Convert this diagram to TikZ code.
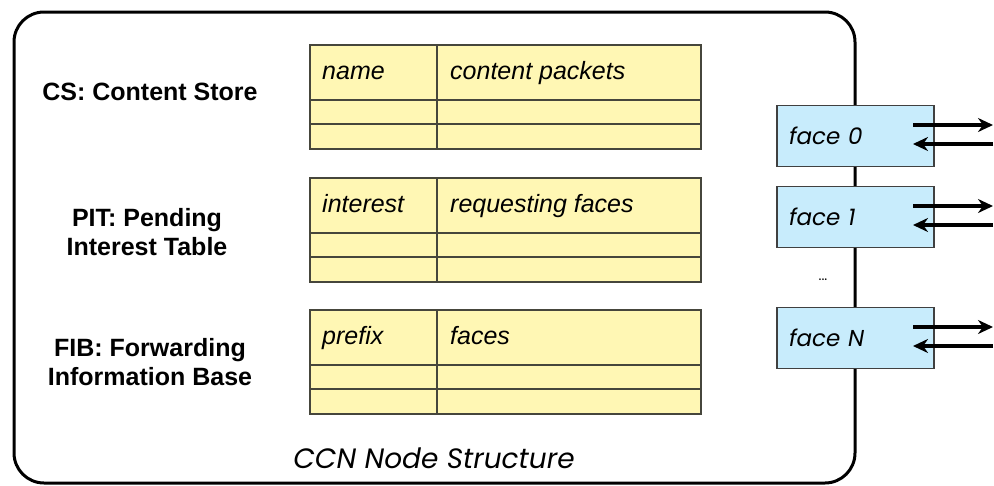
\documentclass[tikz,border=0pt]{standalone}
\usepackage{fontspec}
\setmainfont{Liberation Sans}
\newfontfamily\futfont{Poppins}
\usetikzlibrary{arrows.meta,calc}
\definecolor{tabfill}{RGB}{255,247,180}
\definecolor{tabline}{RGB}{70,70,60}
\definecolor{facefill}{RGB}{200,236,252}
\begin{document}
\begin{tikzpicture}[
            x=1pt, y=-1pt,
            tablabel/.style = {font=\fontsize{25}{29}\selectfont\bfseries, align=center},
            tabbox/.style   = {draw=tabline, line width=1.5pt, fill=tabfill, minimum width=391pt, minimum height=104pt, inner sep=0pt, anchor=north west},
            tabrule/.style  = {draw=tabline, line width=1.5pt},
            cell/.style     = {font=\fontsize{25}{29}\selectfont\itshape, anchor=base west, inner sep=0pt},
            facebox/.style  = {draw=black!75, line width=1.5pt, fill=facefill, minimum width=157pt, minimum height=61pt, inner sep=0pt, text width=133pt, align=left, font=\futfont\itshape\fontsize{23}{27}\selectfont},
            io/.style       = {line width=3.5pt, -{Stealth[length=15pt, width=14pt]}}
        ]
            \useasboundingbox (0,0) rectangle (994,485);

            % node frame
            \draw[line width=3pt, rounded corners=30pt] (14,12) rectangle (855,483);

            % the three tables
            \foreach \nm/\y/\a/\b in {cs/44/name/content packets, pit/177/interest/requesting faces, fib/309/prefix/faces} {
                \node[tabbox] (\nm) at (309,\y) {};
                \draw[tabrule] ($(\nm.north west)+(128,0)$) -- ($(\nm.south west)+(128,0)$);
                \draw[tabrule] ($(\nm.north west)+(0,56)$) -- ($(\nm.north east)+(0,56)$);
                \draw[tabrule] ($(\nm.north west)+(0,80)$) -- ($(\nm.north east)+(0,80)$);
                \node[cell] at ($(\nm.north west)+(13,35)$) {\a};
                \node[cell] at ($(\nm.north west)+(141,35)$) {\b};
            }

            \node[tablabel] (cs-lbl)  at (150,92)  {CS: Content Store};
            \node[tablabel] (pit-lbl) at (147,232) {PIT: Pending\\Interest Table};
            \node[tablabel] (fib-lbl) at (150,362) {FIB: Forwarding\\Information Base};

            % faces
            \foreach \n/\t/\y in {0/face 0/136, 1/face 1/217, N/face N/338} {
                \node[facebox] (face\n) at (855.5,\y) {\t};
                \coordinate (out\n) at (993,\y-11);
                \coordinate (in\n)  at (993,\y+8);
                \draw[io] (face\n.center -| 913,0) ++(0,-11) -- (out\n);
                \draw[io] (in\n) -- (in\n -| 913,0);
            }
            \node[font=\futfont\fontsize{14}{16}\selectfont] (dots) at (823,280) {...};

            \node[font=\futfont\itshape\fontsize{28}{32}\selectfont] (title) at (434,458) {CCN Node Structure};
        \end{tikzpicture}
\end{document}
